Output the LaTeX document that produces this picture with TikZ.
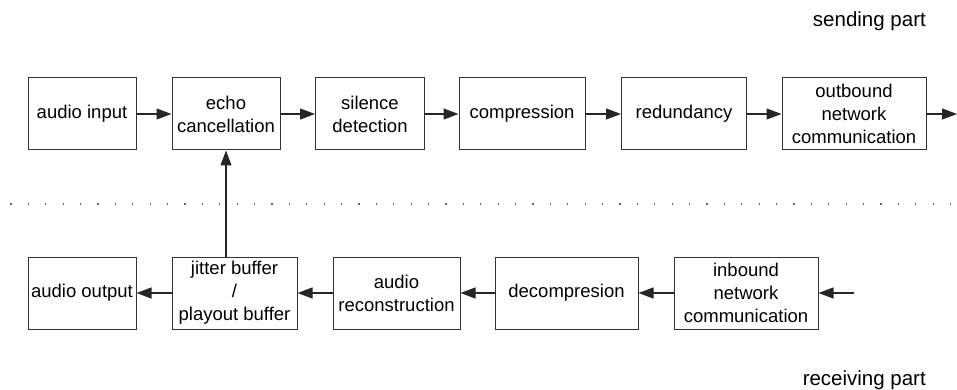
\documentclass[tikz,border=0pt]{standalone}
\usepackage{fontspec}
\setmainfont{Liberation Sans}
\usetikzlibrary{arrows.meta}
\begin{document}
\begin{tikzpicture}[x=1pt,y=-1pt,
  blk/.style={draw=black!80, line width=1pt, minimum height=72pt, align=center,
    inner sep=0pt, font=\fontsize{18.5}{23}\selectfont},
  flow/.style={draw=black!85, line width=1.1pt, -{Triangle[length=15pt,width=11pt]}},
  partlabel/.style={anchor=base east, inner sep=0pt, font=\fontsize{20.5}{24}\selectfont}]
\useasboundingbox (0,0) rectangle (957,390);
% sending chain
\node[blk, minimum width=108pt] (ain)  at (82,114)  {audio input};
\node[blk, minimum width=108pt] (echo) at (226,114) {echo\\cancellation};
\node[blk, minimum width=109pt] (sil)  at (370,114) {silence\\detection};
\node[blk, minimum width=126pt] (comp) at (522,114) {compression};
\node[blk, minimum width=125pt] (red)  at (684,114) {redundancy};
\node[blk, minimum width=144pt] (out)  at (854,114) {outbound\\network\\communication};
\coordinate (sendend) at (957,114);
% receiving chain
\node[blk, minimum width=108pt] (aout) at (82,293)  {audio output};
\node[blk, minimum width=125pt] (jit)  at (234.5,293) {jitter buffer\\/\\playout buffer};
\node[blk, minimum width=127pt] (rec)  at (396.5,293) {audio\\reconstruction};
\node[blk, minimum width=143pt] (dec)  at (566.5,293) {decompresion};
\node[blk, minimum width=144pt] (inb)  at (746,293) {inbound\\network\\communication};
\coordinate (recvstart) at (854,293);
% connectors
\draw[flow] (ain) -- (echo);
\draw[flow] (echo) -- (sil);
\draw[flow] (sil) -- (comp);
\draw[flow] (comp) -- (red);
\draw[flow] (red) -- (out);
\draw[flow] (out) -- (sendend);
\draw[flow] (recvstart) -- (inb);
\draw[flow] (inb) -- (dec);
\draw[flow] (dec) -- (rec);
\draw[flow] (rec) -- (jit);
\draw[flow] (jit) -- (aout);
\draw[flow] (jit.north -| echo.south) -- (echo.south);
% separator between the two parts
\foreach \i in {0,...,54} \fill[black!60] (11+17.4*\i-0.6,203.4) rectangle ++(1.2,1.2);
% part labels
\node[partlabel] (send) at (926,27) {sending part};
\node[partlabel] (recv) at (926,385) {receiving part};
\end{tikzpicture}
\end{document}
